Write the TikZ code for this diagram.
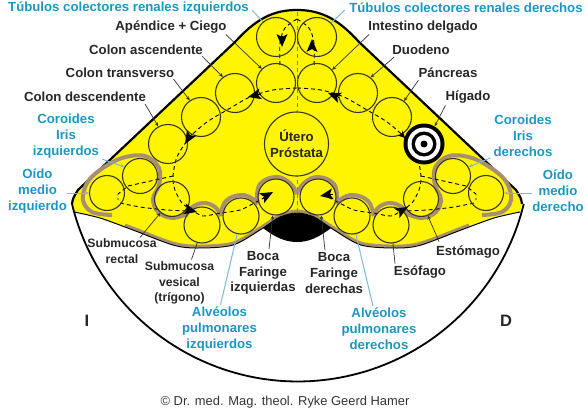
\documentclass[tikz,border=0pt]{standalone}
\usepackage{fontspec}
\setmainfont{Liberation Sans}
\usetikzlibrary{arrows.meta}
\definecolor{amarillo}{HTML}{FFF500}
\definecolor{marron}{HTML}{A88F6E}
\definecolor{azultexto}{HTML}{1C96C0}
\definecolor{azulguia}{HTML}{7FB8DC}
\tikzset{
  organo/.style={circle,draw=black!90!yellow,line width=1.1pt,minimum size=39pt,inner sep=0pt},
  organochico/.style={organo,minimum size=35pt},
  rotulo/.style={font=\fontsize{13.2}{15.8}\selectfont\bfseries,align=center,inner sep=0pt,text=black!85},
  rotuloazul/.style={rotulo,text=azultexto},
  rotulochico/.style={rotulo,font=\fontsize{12.2}{15.6}\selectfont\bfseries},
  guia/.style={black!80,line width=0.7pt,-{Stealth[length=4pt,width=3.5pt]}},
  guiaazul/.style={azulguia,line width=1pt},
  ruta/.style={black,line width=0.9pt,dash pattern=on 4pt off 3pt},
  punta/.style={-{Stealth[length=13pt,width=11pt,inset=3pt]},line width=0pt,black},
  borde/.style={marron,line width=4pt}
}
\begin{document}
\begin{tikzpicture}[x=1pt,y=-1pt]
  \useasboundingbox (0,0) rectangle (586,420);

  % Contorno amarillo
  \fill[amarillo] (72,204) .. controls (73,198) .. (78,190) -- (235,42)
    .. controls (255,20) and (272,10) .. (297,10)
    .. controls (322,10) and (339,20) .. (359,42) -- (516,190)
    .. controls (521,198) .. (522,204)
    -- plot[smooth] coordinates {(520,212) (494,218) (461,230) (421,245) (397,248) (361,245) (331,228) (314,217) (297,213)
      (280,217) (263,228) (233,245) (197,248) (173,245) (133,230) (100,218) (74,212)} -- cycle;

  % Mancha negra
  \fill[black] (263,228) .. controls (275,218) and (285,213) .. (297,213)
    .. controls (309,213) and (319,218) .. (331,228)
    .. controls (318,238) and (308,242) .. (297,242)
    .. controls (286,242) and (276,238) .. (263,228) -- cycle;

  % Borde marron inferior
  \draw[marron,line width=2.8pt] plot[smooth] coordinates {(125,225) (133,228) (173,243) (197,246) (233,243) (263,226) (280,215) (297,211)
    (314,215) (331,226) (361,243) (397,246) (421,243) (461,228) (469,225)};

  % Linea de debajo
  \draw[black,line width=1pt] plot[smooth] coordinates {(74,212) (100,218) (133,230) (173,245) (197,248) (233,245) (263,228) (280,217) (297,213)
    (314,217) (331,228) (361,245) (397,248) (421,245) (461,230) (494,218) (520,212)};

  % Arco y borde superior
  \draw[black,line width=1.8pt] (72,204) arc[start angle=166.3,delta angle=-152.6,radius=232.5];
  \draw[black,line width=2.2pt,line join=round] (72,204) .. controls (73,198) .. (78,190) -- (235,42)
    .. controls (255,20) and (272,10) .. (297,10)
    .. controls (322,10) and (339,20) .. (359,42) -- (516,190)
    .. controls (521,198) .. (522,204);

  % Eje central
  \draw[black!55!yellow,line width=1pt,dash pattern=on 4pt off 3pt] (297,12) -- (297,213);

  % Los dos lados
  \foreach \esp/\des in {1/0,-1/594} {
    \begin{scope}[shift={(\des,0)},xscale=\esp]
      \draw[borde] plot[smooth,tension=0.6] coordinates {(112,215) (92,212) (83,200) (87,183) (100,170) (122,158) (145,156)
        (159,168) (159,185) (153,199) (158,212) (172,218) (187,214)};
      \draw[borde] plot[smooth,tension=0.7] coordinates {(186,216) (191,208) (203,203) (215,207) (221,216)};
      \draw[borde] plot[smooth,tension=0.7] coordinates {(220,216) (226,201) (241,195) (253,199) (258,204)};
      \draw[borde] plot[smooth,tension=0.7] coordinates {(257,200) (260,184) (276,177) (290,183) (297,194)};
      \draw[ruta] plot[smooth] coordinates {(297,88) (273,90) (250,97) (227,110) (207,122) (190,137) (177,157) (173,177) (175,190) (182,203)
        (192,210) (203,216) (220,213) (240,210) (260,200) (268,196)};
      \draw[ruta] (173,176) -- (128,186) -- (118,194) -- (118,200);
      \draw[ruta] plot[smooth] coordinates {(120,203) (140,207) (167,210) (190,211)};
      \draw[ruta] plot[smooth] coordinates {(297,19) (285,28) (280,43) (280,68)};
    \end{scope}
  }

  % Organos de la izquierda
  \node[organo] (cTubIzq) at (276,37) {};
  \node[organo] (cApendice) at (276,83) {};
  \node[organo] (cAscendente) at (235,93) {};
  \node[organo] (cTransverso) at (201,117) {};
  \node[organo] (cDescendente) at (168,144) {};
  \node[organochico] (cCoroIzq) at (140,176) {};
  \node[organochico] (cOidoIzq) at (107,193) {};
  \node[organochico] (cRectal) at (172,199) {};
  \node[organo,minimum size=36pt] (cVesical) at (202,225) {};
  \node[organo,minimum size=36pt] (cAlvIzq) at (241,216) {};
  \node[organo,minimum size=36pt] (cBocaIzq) at (276,197) {};

  % Organos de la derecha
  \node[organo] (cTubDer) at (317,37) {};
  \node[organo] (cIntestino) at (317,83) {};
  \node[organo] (cDuodeno) at (358,93) {};
  \node[organo] (cPancreas) at (392,117) {};
  \node[organochico] (cCoroDer) at (453,176) {};
  \node[organochico] (cOidoDer) at (486,193) {};
  \node[organochico] (cEstomago) at (421,199) {};
  \node[organo,minimum size=36pt] (cEsofago) at (391,225) {};
  \node[organo,minimum size=36pt] (cAlvDer) at (352,216) {};
  \node[organo,minimum size=36pt] (cBocaDer) at (318,197) {};

  % Higado en diana
  \node[circle,fill=black,minimum size=41pt,inner sep=0pt] (cHigado) at (424,144) {};
  \foreach \tam/\col in {33/white,25/black,18/white,7/black}
    \node[circle,fill=\col,minimum size=\tam pt,inner sep=0pt] at (cHigado) {};

  % Utero
  \node[organo,fill=amarillo,minimum size=64pt,rotulo] (cUtero) at (296.5,144) {Útero\\Próstata};

  % Puntas de la ruta
  \draw[punta] (282,37) -- (282,47);
  \draw[punta] (312,49) -- (312,39);
  \draw[punta] (260,94) -- (248,97);
  \draw[punta] (338,97) -- (328,93);
  \draw[punta] (191,134) -- (185,144);
  \draw[black,line width=0pt,-{Stealth[length=7pt,width=7pt]}] (399,132) -- (405,138);
  \draw[punta] (185,209) -- (197,212);
  \draw[punta] (262,198) -- (273,192);
  \draw[punta] (332,194) -- (320,196);
  \draw[punta] (399,212) -- (408,207);

  % Rotulos en azul
  \node[rotuloazul] (lTubIzq) at (128.5,8) {Túbulos colectores renales izquierdos};
  \node[rotuloazul] (lTubDer) at (466,8) {Túbulos colectores renales derechos};
  \node[rotuloazul] (lCoroIzq) at (66,136) {Coroides\\Iris\\izquierdos};
  \node[rotuloazul] (lCoroDer) at (523,136) {Coroides\\Iris\\derechos};
  \node[rotuloazul] (lOidoIzq) at (37.5,191) {Oído\\medio\\izquierdo};
  \node[rotuloazul] (lOidoDer) at (558,191) {Oído\\medio\\derecho};
  \node[rotuloazul] (lAlvIzq) at (219.5,329) {Alvéolos\\pulmonares\\izquierdos};
  \node[rotuloazul] (lAlvDer) at (379,329) {Alvéolos\\pulmonares\\derechos};

  % Rotulos en negro
  \node[rotulo] (lApendice) at (171,27) {Apéndice + Ciego};
  \node[rotulo] (lAscendente) at (146,50) {Colon ascendente};
  \node[rotulo] (lTransverso) at (120,73) {Colon transverso};
  \node[rotulo] (lDescendente) at (85,97) {Colon descendente};
  \node[rotulo] (lIntestino) at (423,27) {Intestino delgado};
  \node[rotulo] (lDuodeno) at (421,50) {Duodeno};
  \node[rotulo] (lPancreas) at (448,73) {Páncreas};
  \node[rotulo] (lHigado) at (468,97) {Hígado};
  \node[rotulochico] (lRectal) at (122,251) {Submucosa\\rectal};
  \node[rotulochico] (lVesical) at (179.5,283) {Submucosa\\vesical\\(trígono)};
  \node[rotulo] (lBocaIzq) at (263,273) {Boca\\Faringe\\izquierdas};
  \node[rotulo] (lBocaDer) at (334,273) {Boca\\Faringe\\derechas};
  \node[rotulo] (lEstomago) at (468,252) {Estómago};
  \node[rotulo] (lEsofago) at (420,272) {Esófago};

  \node[rotulo,font=\fontsize{16.5}{18}\selectfont\bfseries] (lI) at (87,321) {I};
  \node[rotulo,font=\fontsize{16.5}{18}\selectfont\bfseries] (lD) at (506,321) {D};
  \node[inner sep=0pt,font=\fontsize{12.9}{14}\selectfont,text=black!80] (lAutor) at (285,402) {© Dr. med. Mag. theol. Ryke Geerd Hamer};

  % Extremos libres de las guias
  \coordinate (gTubIzq) at (252,10);
  \coordinate (gTubDer) at (345,10);

  % Guias
  \draw[guia] ([shift={(-1,1)}]lApendice.south east) -- (cApendice.135);
  \draw[guia] ([shift={(-1,1)}]lAscendente.south east) -- (cAscendente.127);
  \draw[guia] ([shift={(-1,1)}]lTransverso.south east) -- (cTransverso.124);
  \draw[guia] ([shift={(-1,2)}]lDescendente.south east) -- (cDescendente.119);
  \draw[guia] ([shift={(1,1)}]lIntestino.south west) -- (cIntestino.41);
  \draw[guia] ([shift={(2,2)}]lDuodeno.south west) -- (cDuodeno.51);
  \draw[guia] ([shift={(0,2)}]lPancreas.south west) -- (cPancreas.53);
  \draw[guia] ([shift={(0,2)}]lHigado.south west) -- (cHigado.59);
  \draw[guia] ([shift={(18,-1)}]lRectal.north) -- (cRectal.230);
  \draw[guia,-] ([shift={(12,-2)}]lVesical.north) -- (cVesical.255);
  \draw[guia] ([shift={(6,-2)}]lBocaIzq.north) -- (cBocaIzq.260);
  \draw[guia] ([shift={(-9,-2)}]lBocaDer.north) -- (cBocaDer.280);
  \draw[guia,-] ([shift={(-25,-2)}]lEsofago.north) -- (cEsofago.276);
  \draw[guia] ([shift={(-29,-4)}]lEstomago.north) -- (cEstomago.292);
  \draw[guiaazul] (gTubIzq) -- (cTubIzq.131);
  \draw[guiaazul] (gTubDer) -- (cTubDer.45);
  \draw[guiaazul,-{Stealth[length=4pt,width=3.5pt]}] ([shift={(3,1)}]lCoroIzq.south east) -- (cCoroIzq.150);
  \draw[guiaazul,-{Stealth[length=4pt,width=3.5pt]}] ([shift={(-3,1)}]lCoroDer.south west) -- (cCoroDer.30);
  \draw[guiaazul,-{Stealth[length=4pt,width=3.5pt]}] ([shift={(0,2)}]lOidoIzq.east) -- (cOidoIzq.180);
  \draw[guiaazul,-{Stealth[length=4pt,width=3.5pt]}] ([shift={(0,2)}]lOidoDer.west) -- (cOidoDer.0);
  \draw[guiaazul] ([shift={(1,-2)}]lAlvIzq.north) -- (cAlvIzq.258);
  \draw[guiaazul] ([shift={(-6,-2)}]lAlvDer.north) -- (cAlvDer.282);
\end{tikzpicture}
\end{document}
